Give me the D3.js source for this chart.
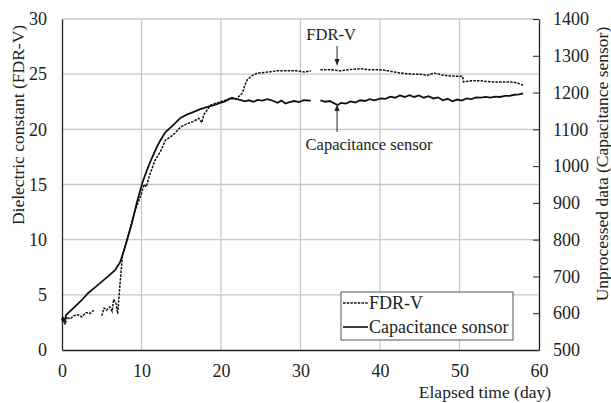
<!DOCTYPE html>
<html><head><meta charset="utf-8">
<script src="https://cdn.jsdelivr.net/npm/d3@7"></script>
<style>body{margin:0;background:#fff}svg{display:block}text{font-family:"Liberation Serif","DejaVu Serif",serif;fill:#222}</style>
</head><body><svg id="c" width="611" height="403" font-family="Liberation Serif, DejaVu Serif, serif"></svg>
<script>
const xTicks=[0,10,20,30,40,50,60];
const leftTicks=[0,5,10,15,20,25,30];
const rightTicks=[500,600,700,800,900,1000,1100,1200,1300,1400];
const seriesNames=["FDR-V","Capacitance sonsor"];
// FDR-V dielectric constant (left axis); null = gap
const fdrDays=[0,0.2,0.4,0.6,1.0,1.5,2.0,2.5,3.0,3.5,4.0,4.5,5.0,5.3,5.6,6.0,6.3,6.5,6.8,7.0,7.3,7.6,8.0,8.5,9.0,9.5,10.0,10.3,10.6,11.0,11.7,12.4,13.0,14.0,14.9,15.7,16.5,17.2,17.6,17.8,18.7,19.5,20.8,22.0,22.7,23.0,23.3,24.0,24.6,26,27,28.4,29.5,30.5,31.3,31.9,32.5,34,35,36,37.5,38.5,40.1,41,42.6,44,45,46,46.8,48,49.5,50.4,50.5,51.5,52.7,54,55.5,56.5,57.3,58];
const fdrVals=[2.7,2.9,2.3,3.0,2.8,3.1,3.2,3.0,3.4,3.3,3.6,null,3.1,3.8,3.6,3.9,3.5,4.6,4.2,3.3,6.0,8.5,9.6,10.8,12.2,13.2,14.2,15.0,14.8,15.8,17.2,18.0,19.0,19.5,20.2,20.5,20.7,21.0,20.6,21.3,22.2,22.4,22.7,22.8,23.3,24.0,24.5,24.9,25.1,25.2,25.3,25.3,25.3,25.2,25.3,null,25.4,25.4,25.3,25.4,25.5,25.4,25.4,25.3,25.1,25.0,25.0,24.9,25.1,24.9,24.8,24.8,24.3,24.4,24.4,24.3,24.3,24.3,24.2,24.0];
// Capacitance sensor raw data (right axis)
const capDays=[0,0.1,0.3,0.5,1.0,1.6,2.5,3.3,4.2,5.0,5.8,6.7,7.3,7.7,8.2,8.8,9.4,10.1,10.7,11.3,12.0,12.4,13.0,13.6,14.3,14.9,15.7,16.5,17.4,18.3,19.1,19.9,20.5,21.0,21.4,21.8,22.4,23.0,23.5,24.1,24.6,25.2,25.8,26.4,27.1,27.6,28.1,28.6,29.2,29.8,30.4,31.3,31.9,32.5,33.1,33.7,34.3,34.7,35.1,35.7,36.3,36.9,37.5,38.1,38.7,39.3,40.1,40.7,41.3,41.9,42.5,43.1,43.7,44.3,44.9,45.5,46.1,46.7,47.3,47.9,48.5,49.1,49.7,50.3,50.9,51.5,52.1,52.7,53.3,53.9,54.5,55.1,55.7,56.3,56.9,57.5,58];
const capVals=[580,590,575,595,605,617,636,655,671,686,700,718,738,764,800,845,900,954,990,1022,1055,1071,1092,1104,1118,1131,1140,1147,1155,1161,1166,1172,1176,1182,1186,1183,1180,1176,1179,1175,1180,1178,1182,1179,1172,1178,1170,1174,1177,1174,1179,1178,null,1179,1175,1177,1170,1166,1172,1170,1176,1173,1179,1177,1182,1179,1184,1183,1189,1186,1192,1188,1193,1188,1192,1186,1190,1184,1187,1179,1183,1176,1181,1178,1184,1182,1187,1186,1188,1186,1189,1188,1191,1191,1194,1195,1198];

const FF="Liberation Serif, DejaVu Serif, serif";
const svg=d3.select("#c");
const L=62,R=539,T=19,B=350;
const x=d3.scaleLinear().domain([0,60]).range([L,R]);
const yL=d3.scaleLinear().domain([0,30]).range([B,T]);
const yR=d3.scaleLinear().domain([500,1400]).range([B,T]);
const grid="#c8c8c8";
// grid
svg.append("g").selectAll("line").data(xTicks.slice(1,-1)).join("line")
 .attr("x1",d=>x(d)).attr("x2",d=>x(d)).attr("y1",T).attr("y2",B).attr("stroke",grid).attr("stroke-width",1.3);
svg.append("g").selectAll("line").data(leftTicks.slice(1)).join("line")
 .attr("x1",L).attr("x2",R).attr("y1",d=>yL(d)).attr("y2",d=>yL(d)).attr("stroke",grid).attr("stroke-width",1.3);
// axes
const ax=svg.append("g").attr("transform",`translate(0,${B})`).call(d3.axisBottom(x).tickValues(xTicks).tickFormat(d3.format("d")).tickSize(0).tickPadding(14.5));
const ayl=svg.append("g").attr("transform",`translate(${L},0)`).call(d3.axisLeft(yL).tickValues(leftTicks).tickFormat(d3.format("d")).tickSize(0).tickPadding(15));
const ayr=svg.append("g").attr("transform",`translate(${R},0)`).call(d3.axisRight(yR).tickValues(rightTicks).tickFormat(d3.format("d")).tickSizeInner(-6).tickSizeOuter(0).tickPadding(20));
[ax,ayl,ayr].forEach(g=>{g.attr("font-family",FF);g.selectAll("text").attr("font-size",18).attr("font-family",FF).attr("fill","#222");g.select(".domain").attr("stroke","#222").attr("stroke-width",1.3);g.selectAll(".tick line").attr("stroke","#222")});
ayr.selectAll("text").attr("x",14);
// titles
svg.append("text").attr("font-family",FF).attr("transform",`translate(24,125) rotate(-90)`).attr("text-anchor","middle").attr("font-size",17.5).text("Dielectric constant (FDR-V)");
svg.append("text").attr("font-family",FF).attr("transform",`translate(608,164) rotate(-90)`).attr("text-anchor","middle").attr("font-size",17.5).text("Unprocessed data (Capacitance sensor)");
svg.append("text").attr("font-family",FF).attr("x",551).attr("y",398).attr("text-anchor","end").attr("font-size",17.5).text("Elapsed time (day)");
// series
const lf=d3.line().defined((d,i)=>fdrVals[i]!==null).x((d,i)=>x(fdrDays[i])).y((d,i)=>yL(fdrVals[i]));
svg.append("path").attr("d",lf(fdrDays)).attr("fill","none").attr("stroke","#111").attr("stroke-width",1.5).attr("stroke-dasharray","2.5,1.2");
const lc=d3.line().defined((d,i)=>capVals[i]!==null).x((d,i)=>x(capDays[i])).y((d,i)=>yR(capVals[i]));
svg.append("path").attr("d",lc(capDays)).attr("fill","none").attr("stroke","#111").attr("stroke-width",1.8);
// annotations
const ann=svg.append("g").attr("font-family",FF);
const ax0=x(34.6);
ann.append("text").attr("font-family",FF).attr("x",ax0-6).attr("y",40).attr("text-anchor","middle").attr("font-size",16.5).text("FDR-V");
ann.append("line").attr("x1",ax0).attr("x2",ax0).attr("y1",46).attr("y2",62).attr("stroke","#222");
ann.append("path").attr("d",`M${ax0-2.5},59L${ax0+2.5},59L${ax0},66Z`).attr("fill","#222");
ann.append("text").attr("font-family",FF).attr("x",369).attr("y",150).attr("text-anchor","middle").attr("font-size",16.5).text("Capacitance sensor");
ann.append("line").attr("x1",ax0).attr("x2",ax0).attr("y1",132).attr("y2",109).attr("stroke","#222");
ann.append("path").attr("d",`M${ax0-2.5},111L${ax0+2.5},111L${ax0},104Z`).attr("fill","#222");
// legend
const lg=svg.append("g").attr("transform","translate(341,292)");
lg.append("rect").attr("width",172).attr("height",48).attr("fill","#fff").attr("stroke","#555").attr("stroke-width",1);
seriesNames.forEach((n,i)=>{
 const yy=11+i*24;
 lg.append("line").attr("x1",2).attr("x2",27).attr("y1",yy).attr("y2",yy).attr("stroke","#111").attr("stroke-width",i?1.6:1.3).attr("stroke-dasharray",i?null:"2.5,1.2");
 lg.append("text").attr("font-family",FF).attr("x",28).attr("y",yy+5.5).attr("font-size",18).attr("fill","#222").text(n);
});
</script></body></html>
